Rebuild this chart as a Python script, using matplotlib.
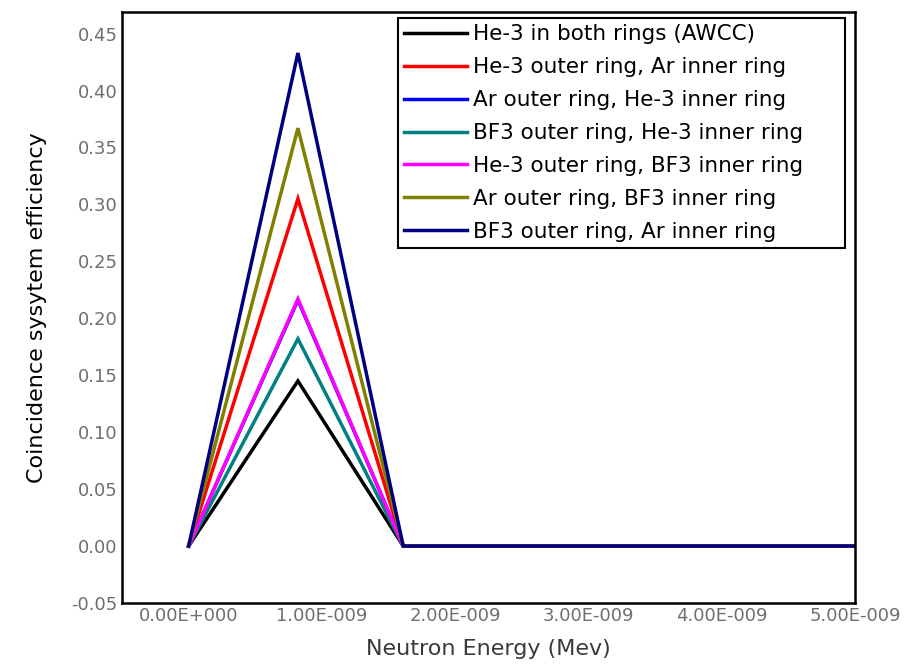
import numpy as np
import matplotlib.pyplot as plt

plt.rcParams['font.family'] = ['DejaVu Sans']

energy = [0.0, 0.82e-9, 1.61e-9, 5.0e-9]

labels = ['He-3 in both rings (AWCC)',
          'He-3 outer ring, Ar inner ring',
          'Ar outer ring, He-3 inner ring',
          'BF3 outer ring, He-3 inner ring',
          'He-3 outer ring, BF3 inner ring',
          'Ar outer ring, BF3 inner ring',
          'BF3 outer ring, Ar inner ring']
colors = ['#000000', '#ff0000', '#0000ff', '#008080', '#ff00ff', '#808000', '#000080']

he3_both = [0.0, 0.145, 0.0, 0.0]
he3_out_ar_in = [0.0, 0.305, 0.0, 0.0]
ar_out_he3_in = [0.0, 0.216, 0.0, 0.0]
bf3_out_he3_in = [0.0, 0.182, 0.0, 0.0]
he3_out_bf3_in = [0.0, 0.217, 0.0, 0.0]
ar_out_bf3_in = [0.0, 0.367, 0.0, 0.0]
bf3_out_ar_in = [0.0, 0.433, 0.0, 0.0]

series = [he3_both, he3_out_ar_in, ar_out_he3_in, bf3_out_he3_in,
          he3_out_bf3_in, ar_out_bf3_in, bf3_out_ar_in]

xticks = [0, 1e-9, 2e-9, 3e-9, 4e-9, 5e-9]
xticklabels = ['0.00E+000', '1.00E-009', '2.00E-009', '3.00E-009', '4.00E-009', '5.00E-009']
yticks = np.arange(-0.05, 0.46, 0.05)

fig = plt.figure(figsize=(9.05, 6.66), dpi=100)
ax = fig.add_axes([0.1348, 0.0946, 0.81, 0.8874])

for y, c, lab in zip(series, colors, labels):
    ax.plot(energy, y, color=c, lw=2.5, label=lab, solid_joinstyle='miter')

ax.set_xlim(-0.5e-9, 5e-9)
ax.set_ylim(-0.05, 0.469)
ax.set_xticks(xticks)
ax.set_xticklabels(xticklabels)
ax.set_yticks(yticks)
ax.set_yticklabels(['%.2f' % v for v in yticks])
ax.tick_params(length=0, labelsize=13, labelcolor='#6e6e6e', pad=3)

for s in ax.spines.values():
    s.set_linewidth(1.8)
    s.set_color('black')

ax.set_ylabel('Coincidence sysytem efficiency', fontsize=16, labelpad=18)
ax.set_xlabel('Neutron Energy (Mev)', fontsize=16, color='#3a3a3a', labelpad=10)

leg = ax.legend(loc='upper left', bbox_to_anchor=(0.3765, 0.0, 0.61, 0.99),
                mode='expand', fontsize=15.5, frameon=True, fancybox=False,
                handlelength=2.9, handletextpad=0.3, labelspacing=0.6,
                borderaxespad=0.0, borderpad=0.3)
leg.get_frame().set_edgecolor('black')
leg.get_frame().set_linewidth(1.5)
leg.get_frame().set_alpha(1)

fig.savefig('out.png', dpi=100)
